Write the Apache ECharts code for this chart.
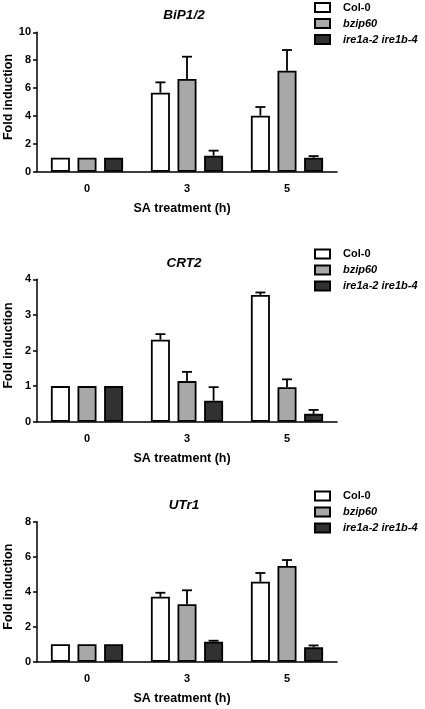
<!DOCTYPE html>
<html><head><meta charset="utf-8">
<script src="https://cdn.jsdelivr.net/npm/echarts@6/dist/echarts.min.js"></script>
<style>html,body{margin:0;padding:0;background:#fff}#c{width:425px;height:709px}</style>
</head><body><div id="c"></div>
<script>
// ---- data ----
var categories = ['0', '3', '5'];
var genotypes = ['Col-0', 'bzip60', 'ire1a-2 ire1b-4'];
var genes = ['BiP1/2', 'CRT2', 'UTr1'];

var bipCol = [1, 5.67, 4.02];
var bipColErr = [0, 0.74, 0.62];
var bipBzip = [1, 6.65, 7.25];
var bipBzipErr = [0, 1.60, 1.48];
var bipIre = [1, 1.15, 1.00];
var bipIreErr = [0, 0.36, 0.12];

var crtCol = [1, 2.30, 3.56];
var crtColErr = [0, 0.16, 0.07];
var crtBzip = [1, 1.14, 0.97];
var crtBzipErr = [0, 0.26, 0.22];
var crtIre = [1, 0.59, 0.22];
var crtIreErr = [0, 0.38, 0.11];

var utrCol = [1, 3.71, 4.57];
var utrColErr = [0, 0.23, 0.50];
var utrBzip = [1, 3.28, 5.47];
var utrBzipErr = [0, 0.80, 0.34];
var utrIre = [1, 1.14, 0.82];
var utrIreErr = [0, 0.06, 0.11];

var yMax = [10, 4, 8];
var yInterval = [2, 1, 2];

// ---- layout/style ----
var FONT = 'Liberation Sans, Arial, sans-serif';
var colors = ['#ffffff', '#a8a8a8', '#313131'];
var gridTops = [32.3, 279.3, 521.7];
var gridHeights = [139.4, 142.4, 140];
var legendTops = [1.5, 248, 490];
var titleTops = [3, 251.5, 493.5];
var BARW = 19, GAPFRAC = 0.4;
var spacing = BARW * (1 + GAPFRAC);

var values = [[bipCol, bipBzip, bipIre], [crtCol, crtBzip, crtIre], [utrCol, utrBzip, utrIre]];
var errs = [[bipColErr, bipBzipErr, bipIreErr], [crtColErr, crtBzipErr, crtIreErr], [utrColErr, utrBzipErr, utrIreErr]];

var option = {
  animation: false,
  backgroundColor: '#fff',
  title: [], legend: [], grid: [], xAxis: [], yAxis: [], series: []
};

for (var g = 0; g < 3; g++) {
  option.title.push({
    text: genes[g], left: 179, top: titleTops[g], textAlign: 'center',
    textStyle: {fontFamily: FONT, fontSize: 13.5, fontWeight: 'bold', fontStyle: 'italic', color: '#000'}
  });
  option.legend.push({
    data: genotypes, orient: 'vertical', left: 314, top: legendTops[g],
    icon: 'rect', itemWidth: 15, itemHeight: 9, itemGap: 4, padding: 0,
    formatter: function (n) { return n === 'Col-0' ? '{n|' + n + '}' : '{i|' + n + '}'; },
    textStyle: {
      fontFamily: FONT, fontSize: 11, fontWeight: 'bold', color: '#000', lineHeight: 12, padding: [0, 0, 0, 8],
      rich: {
        n: {fontFamily: FONT, fontSize: 11, fontWeight: 'bold', color: '#000', lineHeight: 12},
        i: {fontFamily: FONT, fontSize: 11, fontWeight: 'bold', fontStyle: 'italic', color: '#000', lineHeight: 12}
      }
    },
    selectedMode: false
  });
  option.grid.push({left: 37, width: 300, top: gridTops[g], height: gridHeights[g], containLabel: false, outerBoundsMode: 'none'});
  option.xAxis.push({
    type: 'category', gridIndex: g, data: categories,
    name: 'SA treatment (h)', nameLocation: 'middle', nameGap: 30, nameMoveOverlap: false,
    nameTextStyle: {fontFamily: FONT, fontSize: 12.5, fontWeight: 'bold', color: '#000', padding: [0, 10, 0, 0]},
    axisLine: {lineStyle: {color: '#000', width: 1.5}},
    axisTick: {alignWithLabel: true, length: 4, lineStyle: {color: '#000', width: 1}},
    axisLabel: {fontFamily: FONT, fontSize: 11, fontWeight: 'bold', color: '#000', margin: 12}
  });
  option.yAxis.push({
    type: 'value', gridIndex: g, min: 0, max: yMax[g], interval: yInterval[g],
    name: 'Fold induction', nameLocation: 'middle', nameGap: 22, nameMoveOverlap: false,
    nameTextStyle: {fontFamily: FONT, fontSize: 12.5, fontWeight: 'bold', color: '#000', padding: [0, 0, 0, 10]},
    axisLine: {show: true, lineStyle: {color: '#000', width: 1.5}},
    axisTick: {show: true, length: 4, lineStyle: {color: '#000', width: 1.5}},
    splitLine: {show: false},
    axisLabel: {fontFamily: FONT, fontSize: 11, fontWeight: 'bold', color: '#000', margin: 6}
  });
  for (var s = 0; s < 3; s++) {
    option.series.push({
      type: 'bar', name: genotypes[s], xAxisIndex: g, yAxisIndex: g,
      data: values[g][s], barWidth: BARW, barGap: (GAPFRAC * 100) + '%',
      itemStyle: {color: colors[s], borderColor: '#000', borderWidth: 1.8},
      z: 3
    });
  }
  var eData = [];
  for (var s2 = 0; s2 < 3; s2++) {
    for (var c = 0; c < categories.length; c++) {
      if (errs[g][s2][c] > 0) eData.push([c, s2, values[g][s2][c], values[g][s2][c] + errs[g][s2][c]]);
    }
  }
  option.series.push({
    type: 'custom', xAxisIndex: g, yAxisIndex: g, data: eData, z: 2,
    renderItem: function (params, api) {
      var ci = api.value(0), si = api.value(1);
      var base = api.coord([ci, api.value(2)]);
      var top = api.coord([ci, api.value(3)]);
      var x = base[0] + (si - 1) * spacing;
      var half = 5;
      return {
        type: 'group',
        children: [
          {type: 'line', shape: {x1: x, y1: base[1], x2: x, y2: top[1]}, style: {stroke: '#000', lineWidth: 1.8}},
          {type: 'line', shape: {x1: x - half, y1: top[1], x2: x + half, y2: top[1]}, style: {stroke: '#000', lineWidth: 1.8}}
        ]
      };
    }
  });
}

var chart = echarts.init(document.getElementById('c'), null, {renderer: 'canvas'});
chart.setOption(option);
</script></body></html>
